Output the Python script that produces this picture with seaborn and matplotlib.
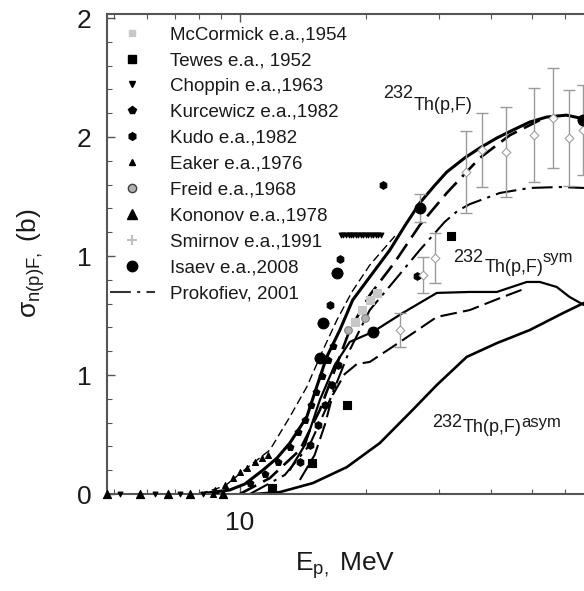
import numpy as np
import pandas as pd
import matplotlib
matplotlib.use('Agg')
import matplotlib.pyplot as plt
import matplotlib.ticker as mticker
from matplotlib.lines import Line2D
import seaborn as sns

# ---------------- data ----------------
# model curves: total 232Th(p,F)
tot_solid_x = [8.02, 9.46, 10.28, 11.35, 12.27, 13.17, 14.46, 15.27, 16.14, 17.35, 18.62, 20.46, 22.85, 24.8, 26.95, 29.3, 31.27, 34.5, 37.5, 41.2, 44.98, 49.4, 54.2, 60.5, 66.6]
tot_solid_y = [0, 0.017, 0.042, 0.10, 0.151, 0.214, 0.324, 0.45, 0.576, 0.689, 0.815, 0.912, 1.025, 1.126, 1.223, 1.298, 1.353, 1.412, 1.454, 1.496, 1.529, 1.563, 1.584, 1.592, 1.576]
tot_dash_x = [10.0, 11.8, 13.92, 15.54, 16.87, 18.32, 20.46, 23.5, 26.95, 31.27, 37.5, 44.3, 52.2]
tot_dash_y = [0, 0.067, 0.185, 0.353, 0.521, 0.689, 0.836, 0.975, 1.13, 1.265, 1.412, 1.508, 1.571]
prok_x = [10.57, 12.81, 14.69, 16.42, 18.32, 20.46, 23.5, 26.95, 30.9, 33.2, 35.5, 41.9, 49.4, 58.25, 66.6]
prok_y = [0, 0.080, 0.206, 0.395, 0.605, 0.773, 0.899, 1.025, 1.143, 1.190, 1.218, 1.265, 1.286, 1.290, 1.286]
thin_x = [8.02, 9.21, 10.39, 11.8, 13.17, 14.46, 15.81, 17.07, 18.54, 20.46, 23.5]
thin_y = [0, 0.034, 0.109, 0.185, 0.324, 0.45, 0.605, 0.731, 0.849, 0.962, 1.084]
# symmetric fission
sym_solid_x = [13.17, 14.31, 15.54, 16.87, 18.32, 20.8, 24.55, 29.6, 35.5, 41.2, 48.6, 52.2, 57.3, 61.5, 66.6]
sym_solid_y = [0.101, 0.206, 0.395, 0.542, 0.639, 0.681, 0.761, 0.845, 0.849, 0.849, 0.891, 0.891, 0.87, 0.828, 0.794]
sym_dash_x = [13.92, 15.1, 15.97, 16.68, 17.82, 19.05, 20.46, 24.55, 29.6, 35.5, 42.6, 48.6]
sym_dash_y = [0.059, 0.164, 0.29, 0.416, 0.504, 0.546, 0.555, 0.647, 0.744, 0.773, 0.828, 0.866]
# asymmetric fission
asym_x = [10.86, 12.47, 14.96, 18.03, 21.62, 25.9, 29.6, 34.9, 41.2, 49.4, 59.3, 66.6]
asym_y = [0, 0.008, 0.046, 0.113, 0.214, 0.353, 0.458, 0.576, 0.634, 0.689, 0.76, 0.803]

# experimental data
mccormick_x = [18.84, 19.59, 20.46, 21.3]
mccormick_y = [0.723, 0.773, 0.815, 0.845]
tewes_x = [11.93, 14.87, 18.03, 32.0]
tewes_y = [0.025, 0.13, 0.374, 1.084]
choppin_x = [5.16, 6.26, 7.18, 8.15, 17.44, 17.7, 17.94, 18.2, 18.45, 18.7, 18.97, 19.2, 19.47, 19.75, 20.0, 20.3, 20.57, 20.85, 21.14, 21.45, 21.73]
choppin_y = [0, 0, 0, 0, 1.088, 1.088, 1.088, 1.088, 1.088, 1.088, 1.088, 1.088, 1.088, 1.088, 1.088, 1.088, 1.088, 1.088, 1.088, 1.088, 1.088]
kurcewicz_x = [10.57, 11.47, 12.33, 13.17, 13.77, 14.31, 14.80, 15.21, 15.71, 16.24, 16.68]
kurcewicz_y = [0.046, 0.084, 0.134, 0.197, 0.261, 0.311, 0.374, 0.429, 0.496, 0.563, 0.622]
kudo_x = [13.92, 14.69, 15.37, 15.97, 16.6, 17.15, 21.98, 17.35, 16.42, 26.5]
kudo_y = [0.134, 0.206, 0.29, 0.374, 0.458, 0.542, 1.298, 0.987, 0.794, 0.916]
eaker_x = [8.62, 8.71, 9.21, 9.62, 10.0, 10.39, 10.86, 11.29, 11.67]
eaker_y = [0, 0.017, 0.038, 0.067, 0.092, 0.109, 0.134, 0.151, 0.164]
freid_x = [18.13, 19.9]
freid_y = [0.689, 0.739]
kononov_x = [4.81, 5.77, 6.73, 7.59, 9.11]
kononov_y = [0, 0, 0, 0, 0]
smirnov_x = [24.14, 27.4, 29.3, 34.7, 37.9, 43.3, 50.5, 56.1, 61.2, 66.2]
smirnov_y = [0.689, 0.920, 0.992, 1.353, 1.445, 1.437, 1.508, 1.580, 1.496, 1.529]
smirnov_err = [0.071, 0.076, 0.105, 0.172, 0.155, 0.189, 0.197, 0.210, 0.202, 0.189]
isaev_x = [26.95, 17.07, 66.3, 15.81, 20.8, 15.54]
isaev_y = [1.202, 0.929, 1.571, 0.718, 0.681, 0.571]
isaev_err = [0.06, 0.0, 0.0, 0.0, 0.0, 0.0]

legend_labels = ["McCormick e.a.,1954", "Tewes e.a., 1952", "Choppin e.a.,1963",
                 "Kurcewicz e.a.,1982", "Kudo e.a.,1982", "Eaker e.a.,1976",
                 "Freid e.a.,1968", "Kononov e.a.,1978", "Smirnov e.a.,1991",
                 "Isaev e.a.,2008", "Prokofiev, 2001"]
y_tick_vals = [0, 0.5, 1.0, 1.5, 2.0]
y_tick_labels = ["0", "1", "1", "2", "2"]

# ---------------- style ----------------
sns.set_theme(style='ticks')
plt.rcParams['font.family'] = ['Liberation Sans', 'DejaVu Sans']
plt.rcParams['mathtext.fontset'] = 'custom'
plt.rcParams['mathtext.rm'] = 'Liberation Sans'
plt.rcParams['mathtext.it'] = 'Liberation Sans:italic'
plt.rcParams['mathtext.default'] = 'regular'

TXT = '#1a1a1a'
fig = plt.figure(figsize=(5.84, 5.91), dpi=100)
ax = fig.add_axes([107/584, (591-494)/591, (584-107)/584, 480/591])
ax.set_xscale('log')

def curve(x, y, ls, lw):
    sns.lineplot(x=x, y=y, ax=ax, sort=False, estimator=None, color='black',
                 linestyle=ls, linewidth=lw)

curve(tot_solid_x, tot_solid_y, '-', 2.2)
curve(tot_dash_x, tot_dash_y, (0, (7, 3)), 1.9)
curve(prok_x, prok_y, (0, (10, 3, 1.5, 3)), 1.5)
curve(thin_x, thin_y, (0, (6, 3)), 1.0)
curve(sym_solid_x, sym_solid_y, '-', 1.6)
curve(sym_dash_x, sym_dash_y, (0, (8, 3)), 1.5)
curve(asym_x, asym_y, '-', 1.9)

# error bars
ax.errorbar(smirnov_x, smirnov_y, yerr=smirnov_err, fmt='none', ecolor='#9a9a9a',
            elinewidth=1.0, capsize=4, capthick=1.0, zorder=2)
ax.errorbar(isaev_x, isaev_y, yerr=isaev_err, fmt='none', ecolor='#9a9a9a',
            elinewidth=1.0, capsize=4, capthick=1.0, zorder=2)

def pts(x, y, marker, s, fc, ec, clip=True):
    sns.scatterplot(x=x, y=y, ax=ax, marker=marker, s=s, color=fc, edgecolor=ec,
                    linewidth=0.8, zorder=4, clip_on=clip)

pts(mccormick_x, mccormick_y, 's', 30, '#c8c8c8', '#c8c8c8')
pts(tewes_x, tewes_y, 's', 30, 'black', 'black')
pts(choppin_x, choppin_y, 'v', 12, 'black', 'black', clip=False)
pts(kurcewicz_x, kurcewicz_y, 'p', 26, 'black', 'black')
pts(kudo_x, kudo_y, 'h', 30, 'black', 'black')
pts(eaker_x, eaker_y, '^', 18, 'black', 'black', clip=False)
pts(freid_x, freid_y, 'o', 30, '#b0b0b0', '#808080')
pts(kononov_x, kononov_y, '^', 34, 'black', 'black', clip=False)
pts(smirnov_x, smirnov_y, 'D', 20, 'white', '#a0a0a0')
pts(isaev_x, isaev_y, 'o', 60, 'black', 'black')

# axes
ax.set_xlim(4.81, 66.6)
ax.set_ylim(0, 2.017)
ax.xaxis.set_major_locator(mticker.FixedLocator([10]))
ax.xaxis.set_major_formatter(mticker.FixedFormatter(["10"]))
ax.xaxis.set_minor_locator(mticker.FixedLocator([5, 6, 7, 8, 9, 20, 30, 40, 50, 60]))
ax.xaxis.set_minor_formatter(mticker.NullFormatter())
ax.yaxis.set_major_locator(mticker.FixedLocator(y_tick_vals))
ax.yaxis.set_major_formatter(mticker.FixedFormatter(y_tick_labels))
ax.yaxis.set_minor_locator(mticker.MultipleLocator(0.1))
ax.tick_params(axis='both', which='both', direction='in', color='#555555', top=True, right=False)
ax.tick_params(axis='both', which='major', length=6, width=1.0, labelsize=19, labelcolor=TXT)
ax.tick_params(axis='both', which='minor', length=3.5, width=0.8)
ax.tick_params(axis='y', which='major', pad=11)
ax.tick_params(axis='x', which='major', pad=12)
for side in ['left', 'bottom', 'top']:
    ax.spines[side].set_color('#555555')
    ax.spines[side].set_linewidth(1.5)
ax.spines['right'].set_visible(False)

ax.set_xlabel(r'E$_{p,}$ MeV', fontsize=19, color=TXT)
ax.set_ylabel(r'$\sigma_{n(p)F,}$ (b)', fontsize=19, color=TXT)
ax.xaxis.set_label_coords(0.5, -0.118)
ax.yaxis.set_label_coords(-0.125, 0.48)

# curve labels
def label(x, y, raise_pt, parts_after=None):
    ax.annotate("232", xy=(x, y), xytext=(0, raise_pt), textcoords='offset points',
                fontsize=13, color=TXT, va='baseline', ha='left')
    ax.annotate("Th(p,F)", xy=(x, y), xytext=(22.5, 0), textcoords='offset points',
                fontsize=13, color=TXT, va='baseline', ha='left')
    if parts_after:
        ax.annotate(parts_after, xy=(x, y), xytext=(64.5, raise_pt), textcoords='offset points',
                    fontsize=12, color=TXT, va='baseline', ha='left', annotation_clip=False)

label(21.98, 1.613, 8.5)
label(32.4, 0.933, 7, 'sym')
label(28.8, 0.26, 4, 'asym')

# legend
handles = [
    Line2D([], [], ls='none', marker='s', ms=5, mfc='#c8c8c8', mec='#c8c8c8'),
    Line2D([], [], ls='none', marker='s', ms=5.5, mfc='black', mec='black'),
    Line2D([], [], ls='none', marker='v', ms=4.5, mfc='black', mec='black'),
    Line2D([], [], ls='none', marker='p', ms=5.5, mfc='black', mec='black'),
    Line2D([], [], ls='none', marker='h', ms=5.5, mfc='black', mec='black'),
    Line2D([], [], ls='none', marker='^', ms=4.5, mfc='black', mec='black'),
    Line2D([], [], ls='none', marker='o', ms=6, mfc='#b0b0b0', mec='#404040'),
    Line2D([], [], ls='none', marker='^', ms=7, mfc='black', mec='black'),
    Line2D([], [], ls='none', marker='+', ms=7, mew=1.5, color='#c0c0c0'),
    Line2D([], [], ls='none', marker='o', ms=7.5, mfc='black', mec='black'),
    Line2D([], [], ls=(0, (10, 3, 1.5, 3)), lw=1.5, color='#333333'),
]
leg = ax.legend(handles, legend_labels, loc='upper left', bbox_to_anchor=(0.006, 0.975),
                frameon=False, fontsize=13.5, handlelength=2.4, handletextpad=0.8,
                labelspacing=0.47, borderpad=0, borderaxespad=0)
for t in leg.get_texts():
    t.set_color(TXT)

fig.savefig('out.png', dpi=100)
